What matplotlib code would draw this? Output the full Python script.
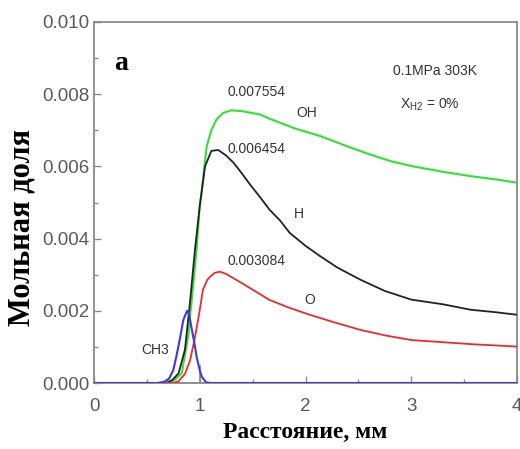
import matplotlib
matplotlib.use("Agg")
import matplotlib.pyplot as plt
from matplotlib.ticker import MultipleLocator

# ---- data (x in mm, mole fraction) ----
oh_x = [0, 0.70, 0.76, 0.83, 0.89, 0.94, 0.97, 1.00, 1.02, 1.066, 1.11, 1.16, 1.22, 1.30,
        1.40, 1.475, 1.57, 1.66, 1.76, 1.90, 2.14, 2.40, 2.61, 2.80, 3.00, 3.30, 3.56, 3.80, 4.00]
oh_y = [0, 0, 0.00008, 0.00027, 0.00129, 0.00277, 0.0037, 0.0049, 0.00536, 0.00656, 0.0070,
        0.00731, 0.00748, 0.007554, 0.00753, 0.00749, 0.00744, 0.00732, 0.00721, 0.00705,
        0.00684, 0.00655, 0.00633, 0.00615, 0.00601, 0.00585, 0.00573, 0.00564, 0.00555]

h_x = [0, 0.68, 0.74, 0.80, 0.86, 0.91, 0.955, 1.00, 1.05, 1.11, 1.175, 1.25, 1.32, 1.40,
       1.475, 1.57, 1.66, 1.76, 1.85, 2.00, 2.14, 2.30, 2.52, 2.75, 3.00, 3.30, 3.56, 3.80, 4.00]
h_y = [0, 0, 0.00008, 0.00027, 0.00092, 0.0023, 0.0037, 0.0049, 0.0060, 0.00643, 0.006454,
       0.0063, 0.0061, 0.0058, 0.0055, 0.00515, 0.0048, 0.0045, 0.00416, 0.0038, 0.00351,
       0.0032, 0.00286, 0.00255, 0.00231, 0.00218, 0.00203, 0.00196, 0.00189]

o_x = [0, 0.75, 0.80, 0.86, 0.91, 0.95, 0.99, 1.03, 1.07, 1.10, 1.14, 1.19, 1.25, 1.35,
       1.475, 1.66, 1.85, 2.04, 2.25, 2.52, 2.75, 3.00, 3.30, 3.60, 4.00]
o_y = [0, 0, 0.00005, 0.00025, 0.00064, 0.0012, 0.00184, 0.00258, 0.00285, 0.00295, 0.00305,
       0.003084, 0.00302, 0.00285, 0.00263, 0.0023, 0.00208, 0.00189, 0.0017, 0.00147,
       0.00132, 0.00119, 0.00113, 0.00107, 0.00101]

ch3_x = [0, 0.60, 0.66, 0.71, 0.75, 0.78, 0.81, 0.845, 0.88, 0.90, 0.92, 0.95, 0.97, 1.00,
         1.02, 1.06, 1.10, 4.0]
ch3_y = [0, 0, 0.00003, 0.00012, 0.00036, 0.00075, 0.00119, 0.00175, 0.0020, 0.0019,
         0.00156, 0.0011, 0.00073, 0.00035, 0.00017, 0.00002, 0, 0]

# peak value labels and species labels
peak_labels = ["0.007554", "0.006454", "0.003084"]
peak_pos = [(1.54, 0.00805), (1.54, 0.00647), (1.54, 0.00337)]
species_labels = ["OH", "H", "O", "CH3"]
species_pos = [(2.01, 0.00749), (1.94, 0.00467), (2.04, 0.00231), (0.58, 0.00092)]

# small gray marker line at x = 1
mark_x = [1.0]
mark_top = [0.0005]

xticks = [0, 1, 2, 3, 4]
yticks = [0.000, 0.002, 0.004, 0.006, 0.008, 0.010]

plt.rcParams['font.family'] = ['Liberation Sans', 'DejaVu Sans']

fig = plt.figure(figsize=(5.2, 4.49), dpi=100)
ax = fig.add_axes([94/520, 1-383/449, (517-94)/520, (383-22)/449])

ax.vlines(mark_x, 0, mark_top, color='#888888', lw=1.2, zorder=1)
ax.axhline(0, color='#888888', lw=1.2, zorder=1)
ax.plot(oh_x, oh_y, color='#33e033', lw=1.5, zorder=3)
ax.plot(h_x, h_y, color='#222222', lw=1.3, zorder=3)
ax.plot(o_x, o_y, color='#ee2a2a', lw=1.3, zorder=3)
ax.plot(ch3_x, ch3_y, color='#3a3ae8', lw=1.5, zorder=4)

ax.set_xlim(0, 4)
ax.set_ylim(0, 0.010)
ax.set_xticks(xticks)
ax.set_xticklabels([str(t) for t in xticks])
ax.set_yticks(yticks)
ax.set_yticklabels([f"{t:.3f}" for t in yticks])
ax.xaxis.set_minor_locator(MultipleLocator(0.5))
ax.yaxis.set_minor_locator(MultipleLocator(0.001))

for sp in ax.spines.values():
    sp.set_color('#8a8a8a')
    sp.set_linewidth(1.3)

ax.tick_params(which='major', direction='in', length=5, width=1, color='#8a8a8a',
               labelcolor='#5a5a5a', labelsize=13.5)
ax.tick_params(which='minor', direction='in', length=3, width=1, color='#8a8a8a')
ax.tick_params(axis='x', pad=11)
ax.tick_params(axis='y', pad=3)

txt_color = '#333333'
for lab, (px, py) in zip(peak_labels, peak_pos):
    ax.text(px, py, lab, fontsize=10, color=txt_color, ha='center', va='center')
for lab, (px, py) in zip(species_labels, species_pos):
    ax.text(px, py, lab, fontsize=10, color=txt_color, ha='center', va='center')

ax.text(3.22, 0.00865, "0.1MPa 303K", fontsize=10, color=txt_color, ha='center', va='center')
ax.text(3.18, 0.00772, "X$_{\\mathregular{H2}}$ = 0%", fontsize=10, color=txt_color,
        ha='center', va='center')

ax.text(0.26, 0.00885, "a", fontsize=20, fontweight='bold', family='Liberation Serif',
        color='black', ha='center', va='center')

ax.set_xlabel("Расстояние, мм", fontsize=17, fontweight='bold', family='Liberation Serif',
              labelpad=5)
ax.set_ylabel("Мольная доля", fontsize=22, fontweight='bold', family='Liberation Serif',
              va='center')
ax.yaxis.set_label_coords(-0.17, 0.43)

fig.savefig("out.png", dpi=100)
